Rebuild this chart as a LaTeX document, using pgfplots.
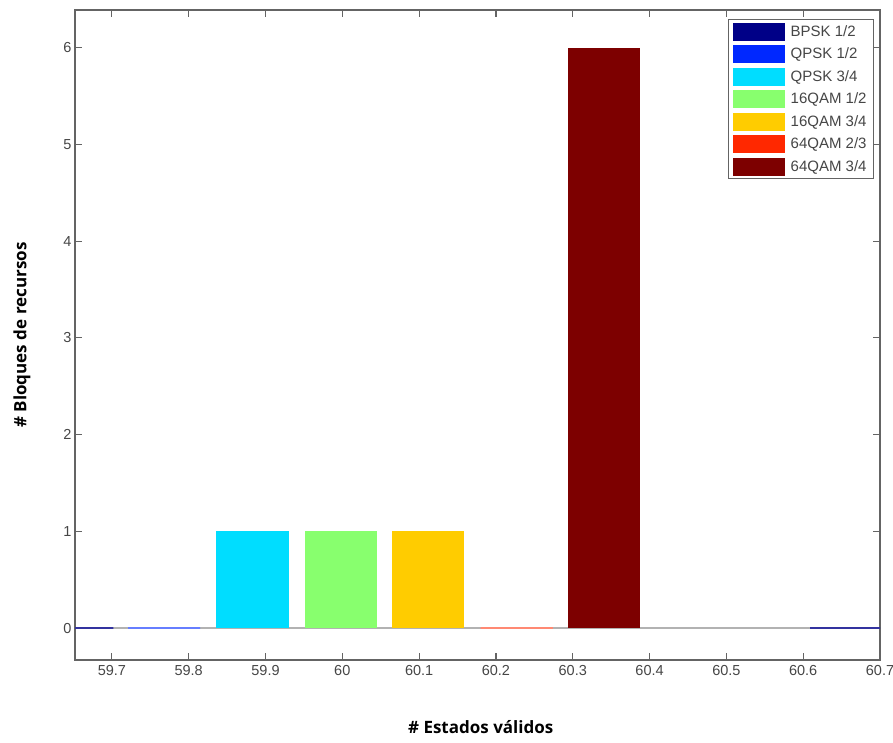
\documentclass[border=0pt]{standalone}
\usepackage{fontspec}
\setmainfont{Liberation Sans}
\newfontfamily\labfont{Open Sans}
\usepackage{pgfplots}
\pgfplotsset{compat=1.18}
\definecolor{cNavy}{RGB}{0,0,135}
\definecolor{cBlue}{RGB}{0,40,255}
\definecolor{cCyan}{RGB}{0,221,255}
\definecolor{cGreen}{RGB}{136,255,110}
\definecolor{cYellow}{RGB}{255,204,0}
\definecolor{cRed}{RGB}{255,40,0}
\definecolor{cDark}{RGB}{125,0,0}
\definecolor{axgray}{RGB}{100,100,100}
\definecolor{txtgray}{RGB}{70,70,70}
\begin{document}
\begin{tikzpicture}[x=1bp,y=1bp]
\begin{axis}[
  /pgf/number format/assume math mode=true,
  scale only axis,
  width=805bp, height=650bp,
  xmin=59.652, xmax=60.7,
  ymin=-0.33, ymax=6.39,
  xtick={59.7,59.8,59.9,60,60.1,60.2,60.3,60.4,60.5,60.6,60.7},
  xticklabels={59.7,59.8,59.9,60,60.1,60.2,60.3,60.4,60.5,60.6,60.7},
  ytick={0,1,2,3,4,5,6},
  tick align=inside,
  major tick length=7bp,
  axis line style={axgray, line width=1.2bp},
  tick style={axgray, line width=1.2bp},
  ticklabel style={font=\fontsize{14.5bp}{16bp}\selectfont, text=txtgray},
  xticklabel style={yshift=-2bp},
  xlabel={\labfont\bfseries\fontsize{17bp}{20bp}\selectfont \# Estados válidos},
  ylabel={\labfont\bfseries\fontsize{17bp}{20bp}\selectfont \# Bloques de recursos},
  xlabel style={at={(axis description cs:0.504,0)}, anchor=center, yshift=-67bp},
  ylabel style={at={(axis description cs:0,0.5)}, anchor=center, yshift=53bp},
  legend cell align=left,
  legend style={at={(0.9925,0.986)}, anchor=north east, draw=axgray, line width=0.8bp,
    font=\fontsize{15bp}{17bp}\selectfont, text=txtgray,
    inner xsep=5bp, inner ysep=3bp, row sep=4.5bp,
    /tikz/every odd column/.append style={column sep=3.5bp},
    /tikz/every even column/.append style={column sep=0bp}},
  legend image code/.code={\fill[#1,draw=none] (0bp,-9bp) rectangle (52bp,9bp);},
]
\addplot[forget plot, gray!60, line width=1.2bp] coordinates {(59.652,0) (60.7,0)};
\addplot[ybar, bar shift=0pt, bar width=0.094, fill=cNavy, draw=cNavy!80, line width=2bp] coordinates {(59.655,0) (60.656,0)};
\addlegendentry{BPSK 1/2}
\addplot[ybar, bar shift=0pt, bar width=0.094, fill=cBlue, draw=cBlue!60, line width=2bp] coordinates {(59.768,0)};
\addlegendentry{QPSK 1/2}
\addplot[ybar, bar shift=0pt, bar width=0.094, fill=cCyan, draw=none] coordinates {(59.883,1)};
\addlegendentry{QPSK 3/4}
\addplot[ybar, bar shift=0pt, bar width=0.094, fill=cGreen, draw=none] coordinates {(59.998,1)};
\addlegendentry{16QAM 1/2}
\addplot[ybar, bar shift=0pt, bar width=0.094, fill=cYellow, draw=none] coordinates {(60.112,1)};
\addlegendentry{16QAM 3/4}
\addplot[ybar, bar shift=0pt, bar width=0.094, fill=cRed, draw=cRed!55, line width=2bp] coordinates {(60.227,0)};
\addlegendentry{64QAM 2/3}
\addplot[ybar, bar shift=0pt, bar width=0.094, fill=cDark, draw=none] coordinates {(60.341,6)};
\addlegendentry{64QAM 3/4}
\end{axis}
\pgfresetboundingbox
\path ([shift={(-75bp,-83bp)}]current axis.south west) rectangle ([shift={(13bp,10bp)}]current axis.north east);
\end{tikzpicture}
\end{document}
